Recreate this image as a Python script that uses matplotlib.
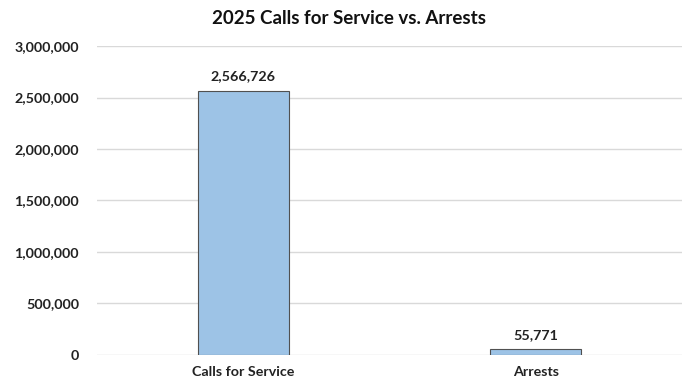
import matplotlib
matplotlib.use("Agg")
import matplotlib.pyplot as plt
from matplotlib.ticker import FuncFormatter, MultipleLocator

categories = ["Calls for Service", "Arrests"]
values = [2566726, 55771]
title = "2025 Calls for Service vs. Arrests"

plt.rcParams["font.family"] = ["Lato", "DejaVu Sans"]
plt.rcParams["font.weight"] = "bold"

fig = plt.figure(figsize=(6.84, 3.87), dpi=100)
ax = fig.add_axes([0.142, 0.083, 0.855, 0.798])

x = range(len(categories))
ax.bar(x, values, width=0.31, color="#9DC3E6", edgecolor="#505050",
       linewidth=0.8, zorder=3)

for xi, v in zip(x, values):
    ax.annotate(f"{v:,}", (xi, v), xytext=(0, 6), textcoords="offset points",
                ha="center", va="bottom", fontsize=10.3, fontweight="bold",
                color="#222222")

ax.set_xlim(-0.5, 1.5)
ax.set_ylim(0, 3000000)
ax.yaxis.set_major_locator(MultipleLocator(500000))
ax.yaxis.set_major_formatter(FuncFormatter(lambda v, _: f"{int(v):,}"))
ax.set_xticks(list(x))
ax.set_xticklabels(categories)

ax.grid(axis="y", color="#D9D9D9", linewidth=1, zorder=0)
for s in ax.spines.values():
    s.set_visible(False)
ax.tick_params(axis="both", length=0, labelsize=10.3, colors="#222222")
ax.tick_params(axis="y", pad=13)
ax.tick_params(axis="x", pad=8)

fig.suptitle(title, x=0.51, y=0.975, fontsize=13.5, fontweight="bold",
             color="#111111")

fig.savefig("out.png", dpi=100, facecolor="white")
